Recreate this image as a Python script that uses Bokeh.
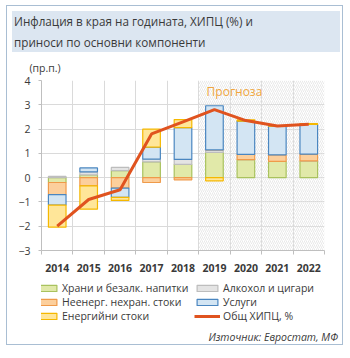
import numpy as np
from bokeh.plotting import figure
from bokeh.models import (ColumnDataSource, Range1d, FixedTicker, BoxAnnotation, Label,
                          Legend, LegendItem, Div, Column, Title)
from bokeh.embed import file_html
from bokeh.resources import INLINE

# ---------------- data ----------------
years = ["2014", "2015", "2016", "2017", "2018", "2019", "2020", "2021", "2022"]
food = [-0.20, 0.11, 0.29, 0.65, 0.55, 1.04, 0.74, 0.67, 0.69]
alcohol = [0.05, 0.13, 0.13, 0.11, 0.20, 0.10, 0.00, 0.00, 0.00]
nonenergy = [-0.50, -0.34, -0.43, -0.20, -0.09, 0.00, 0.22, 0.27, 0.28]
services = [-0.43, 0.16, -0.38, 0.50, 1.31, 1.82, 1.37, 1.18, 1.22]
energy = [-0.91, -0.96, -0.13, 0.74, 0.33, -0.13, 0.05, 0.02, 0.04]
hicp = [-2.0, -0.9, -0.5, 1.8, 2.3, 2.8, 2.35, 2.13, 2.2]
y_ticks = [-3, -2, -1, 0, 1, 2, 3, 4]
forecast_from = "2019"

series_names = ["Храни и безалк. напитки", "Алкохол и цигари", "Неенерг. нехран. стоки",
                "Услуги", "Енергийни стоки"]
series_vals = [food, alcohol, nonenergy, services, energy]
line_name = "Общ ХИПЦ, %"
title_lines = ["Инфлация в края на годината, ХИПЦ (%) и", "приноси по основни компоненти"]
unit_text = "(пр.п.)"
forecast_text = "Прогноза"
source_text = "Източник: Евростат, МФ"

fills = ["#e1e9a9", "#e4e4e4", "#fccf9c", "#d3e5f3", "#ffe699"]
lines = ["#a9c25e", "#bdbdbd", "#ef9a4a", "#4a86c0", "#f5b800"]
LINE_COLOR = "#e0531f"

FONT = "Open Sans"
TXT = "#3a3a3a"
XMIN, XMAX = -0.5, len(years) - 0.5
YMIN, YMAX = -3, 4

p = figure(width=335, height=228, output_backend="svg", toolbar_location=None,
           x_range=Range1d(XMIN, XMAX), y_range=Range1d(YMIN, YMAX),
           min_border_left=34, min_border_right=18, min_border_top=24,
           min_border_bottom=30)
p.outline_line_color = None
p.background_fill_color = "white"
p.border_fill_color = "white"

p.add_layout(Title(text=unit_text, align="left", offset=-12, standoff=12,
                   text_font=FONT, text_font_size="10.5px", text_font_style="normal",
                   text_color=TXT), "above")

# forecast hatched area
fi = years.index(forecast_from)
p.add_layout(BoxAnnotation(left=fi - 0.5, right=XMAX, bottom=YMIN, top=YMAX,
                           fill_alpha=0, line_color=None,
                           hatch_pattern="right_diagonal_line", hatch_color="#e3e3e3",
                           hatch_scale=4, hatch_weight=0.8, level="underlay"))

# axes and grids
xs = np.arange(len(years))
p.xaxis.ticker = FixedTicker(ticks=list(xs), minor_ticks=list(np.arange(len(years) + 1) - 0.5))
p.xaxis.major_label_overrides = {int(i): y for i, y in zip(xs, years)}
p.xaxis.major_tick_line_color = None
p.xaxis.minor_tick_line_color = "#bfbfbf"
p.xaxis.minor_tick_out = 4
p.xaxis.minor_tick_in = 0
p.xaxis.axis_line_color = "#bfbfbf"
p.xaxis.major_label_standoff = 7
p.xaxis.major_label_text_font = FONT
p.xaxis.major_label_text_font_size = "10.5px"
p.xaxis.major_label_text_color = TXT
p.xaxis.major_label_text_font_style = "bold"

p.yaxis.ticker = FixedTicker(ticks=y_ticks)
p.yaxis.major_tick_line_color = "#bfbfbf"
p.yaxis.major_tick_out = 3
p.yaxis.major_tick_in = 0
p.yaxis.minor_tick_line_color = None
p.yaxis.axis_line_color = "#bfbfbf"
p.yaxis.major_label_standoff = 8
p.yaxis.major_label_text_font = FONT
p.yaxis.major_label_text_font_size = "10.5px"
p.yaxis.major_label_text_color = TXT

p.xgrid.ticker = FixedTicker(ticks=list(xs[:-1] + 0.5))
p.ygrid.ticker = FixedTicker(ticks=[t for t in y_ticks if t > YMIN])
p.xgrid.grid_line_color = "#dadada"
p.ygrid.grid_line_color = "#dadada"

# stacked bars (positives up, negatives down)
pos = np.zeros(len(years))
neg = np.zeros(len(years))
sources = []
for name, vals, fc, lc in zip(series_names, series_vals, fills, lines):
    v = np.array(vals, dtype=float)
    bottom = np.where(v >= 0, pos, neg + v)
    top = np.where(v >= 0, pos + v, neg)
    pos = np.where(v >= 0, pos + v, pos)
    neg = np.where(v < 0, neg + v, neg)
    src = ColumnDataSource(dict(x=xs, bottom=bottom, top=top))
    sources.append(src)
    p.vbar(x="x", bottom="bottom", top="top", width=0.56, source=src,
           fill_color=fc, line_color=lc, line_width=1.2)

line_src = ColumnDataSource(dict(x=xs, y=hicp))
p.line("x", "y", source=line_src, line_color=LINE_COLOR, line_width=3)

p.add_layout(Label(x=fi - 0.25, y=YMAX - 0.45, text=forecast_text, text_font=FONT,
                   text_font_size="12px", text_color="#f0a640", text_baseline="middle"))

# ---------------- legend panel (own small figure, data kept out of its view) ----------------
LW, LH = 335, 44
pl = figure(width=LW, height=LH, output_backend="svg", toolbar_location=None,
            x_range=Range1d(1000, 1000 + LW), y_range=Range1d(1000, 1000 + LH),
            x_axis_location=None, y_axis_location=None, min_border=0)
pl.grid.visible = False
pl.outline_line_color = None
pl.border_fill_color = "white"
pl.background_fill_color = "white"
leg_r = []
for src, fc, lc in zip(sources, fills, lines):
    leg_r.append(pl.vbar(x="x", bottom="bottom", top="top", width=0.56, source=src,
                         fill_color=fc, line_color=lc, line_width=1.2))
leg_r.append(pl.line("x", "y", source=line_src, line_color=LINE_COLOR, line_width=3))
labels = series_names + [line_name]

common = dict(glyph_width=26, glyph_height=8, label_height=14, spacing=0, padding=0,
              margin=0, label_standoff=3, border_line_color=None, background_fill_alpha=0,
              label_text_font=FONT, label_text_font_size="10.5px", label_text_color=TXT)
leg1 = Legend(items=[LegendItem(label=labels[i], renderers=[leg_r[i]]) for i in (0, 2, 4)],
              location=(-8, 1), **common)
leg2 = Legend(items=[LegendItem(label=labels[i], renderers=[leg_r[i]]) for i in (1, 3, 5)],
              location=(153, 1), **common)
pl.add_layout(leg1)
pl.add_layout(leg2)

title_div = Div(text="<br>".join(title_lines), width=328, height=41, margin=(5, 0, 0, 5),
                styles={"background-color": "#dce6f1", "font-family": FONT,
                        "font-size": "11.7px", "color": TXT, "line-height": "21px",
                        "padding-left": "2px", "box-sizing": "border-box"})
src_div = Div(text="<i>" + source_text + "</i>", width=335, height=20, margin=(0, 0, 0, 0),
              styles={"font-family": FONT, "font-size": "10.5px", "color": TXT,
                      "text-align": "right", "line-height": "20px", "padding-right": "4px",
                      "padding-top": "3px", "box-sizing": "border-box"})

root = Column(children=[title_div, p, pl, src_div], margin=(5, 0, 0, 6),
              styles={"border": "1.5px solid #a9bed3", "background-color": "white"})

open("out.html", "w").write(file_html(root, INLINE))
